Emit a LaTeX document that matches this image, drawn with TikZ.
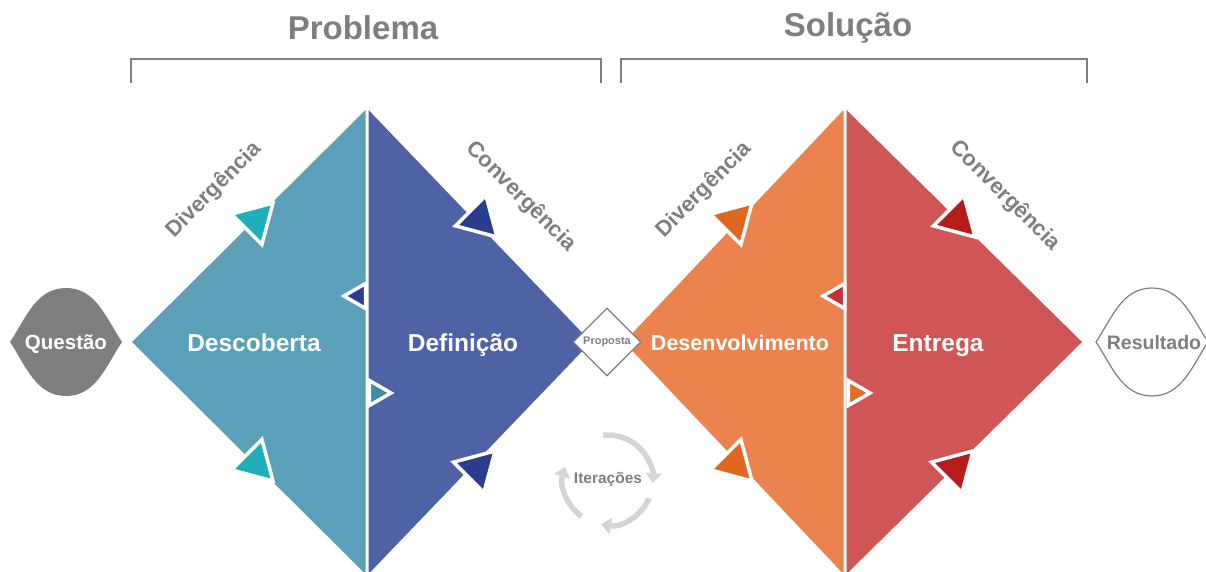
\documentclass[tikz,border=0pt]{standalone}
\usepackage{fontspec}
\setmainfont{Liberation Sans}
\usetikzlibrary{arrows.meta,shapes.geometric}
\definecolor{textgray}{HTML}{7F7F7F}
\definecolor{discover}{HTML}{5BA0B9}
\definecolor{define}{HTML}{4F62A6}
\definecolor{develop}{HTML}{EC834F}
\definecolor{deliver}{HTML}{D05555}
\definecolor{discoverdark}{HTML}{1EAFB9}
\definecolor{discovermid}{HTML}{3C8EA8}
\definecolor{definedark}{HTML}{2B3D8F}
\definecolor{developdark}{HTML}{E1661F}
\definecolor{developmid}{HTML}{E46C24}
\definecolor{deliverdark}{HTML}{B71C1C}
\definecolor{delivermid}{HTML}{C23136}
\definecolor{iterate}{HTML}{D4D4D4}

\tikzset{
  phase/.style={text=white, anchor=base, font=\bfseries\fontsize{24.5}{28}\selectfont},
  flow/.style={text=textgray, font=\bfseries\fontsize{22}{26}\selectfont},
  heading/.style={text=textgray, font=\bfseries\fontsize{33}{38}\selectfont},
  bracket/.style={draw=textgray, line width=2pt},
  endpoint/.style={anchor=base, font=\bfseries\fontsize{20.5}{24}\selectfont},
  cyclearrow/.style={draw=iterate, line width=5.5pt, -{Triangle[length=10pt,width=16pt]}},
}

% triangle: colour, tip, direction, side
\newcommand{\edgetri}[4]{%
  \begin{scope}[shift={#2}, rotate=#3]
    \filldraw[draw=white, line width=3.5pt, fill=#1]
      (0,0) -- ({-#4*0.866},{#4/2}) -- ({-#4*0.866},{-#4/2}) -- cycle;
  \end{scope}}

% lens: centre x, style
\newcommand{\lens}[2]{%
  \path[#2] ({#1-56},342) .. controls ({#1-40},318) and ({#1-30},288) .. (#1,288)
    .. controls ({#1+30},288) and ({#1+40},318) .. ({#1+56},342)
    .. controls ({#1+40},366) and ({#1+30},396) .. (#1,396)
    .. controls ({#1-30},396) and ({#1-40},366) .. ({#1-56},342) -- cycle;}

\begin{document}
\begin{tikzpicture}[x=1pt, y=-1pt]
  \useasboundingbox (0,0) rectangle (1206,572);

  % headings
  \node[heading] (problem) at (363,28) {Problema};
  \node[heading] (solution) at (848,28) {Solução};
  \draw[bracket] (131,83) -- (131,59) -- (601,59) -- (601,83);
  \draw[bracket] (621,83) -- (621,59) -- (1087,59) -- (1087,83);

  % diamonds
  \fill[discover] (132,342) -- (365.5,110) -- (365.5,574) -- cycle;
  \fill[define] (368.5,110) -- (591,342) -- (368.5,574) -- cycle;
  \fill[develop] (624,342) -- (843.5,110) -- (843.5,574) -- cycle;
  \fill[deliver] (846.5,110) -- (1082,342) -- (846.5,574) -- cycle;

  \edgetri{discoverdark}{(273,203)}{45}{43}
  \edgetri{discoverdark}{(273,481)}{-45}{43}
  \edgetri{definedark}{(497,237)}{-45}{43}
  \edgetri{definedark}{(495,451)}{45}{43}
  \edgetri{definedark}{(344,296)}{180}{25}
  \edgetri{discovermid}{(391,393)}{0}{25}

  \edgetri{developdark}{(752,203)}{45}{43}
  \edgetri{developdark}{(752,481)}{-45}{43}
  \edgetri{deliverdark}{(975,237)}{-45}{43}
  \edgetri{deliverdark}{(973,451)}{45}{43}
  \edgetri{delivermid}{(823,296)}{180}{25}
  \edgetri{developmid}{(870,393)}{0}{25}

  \node[phase] (discovery) at (254,351) {Descoberta};
  \node[phase] (definition) at (463,351) {Definição};
  \node[phase, font=\bfseries\fontsize{21.5}{25}\selectfont] (development) at (740,350) {Desenvolvimento};
  \node[phase] (delivery) at (938,351) {Entrega};

  \node[flow, rotate=45] (diverge1) at (214,190) {Divergência};
  \node[flow, rotate=-45] (converge1) at (521,197) {Convergência};
  \node[flow, rotate=45] (diverge2) at (704,190) {Divergência};
  \node[flow, rotate=-45] (converge2) at (1005,196) {Convergência};

  % question and result
  \lens{66}{fill=textgray}
  \node[endpoint, text=white] (question) at (66,349.5) {Questão};
  \lens{1152}{draw=textgray, line width=1.2pt}
  \node[endpoint, text=textgray, font=\bfseries\fontsize{19.5}{23}\selectfont] (result) at (1154,349) {Resultado};

  % proposal
  \node[diamond, draw=textgray, fill=white, line width=1.2pt, minimum size=68pt, inner sep=0pt,
        text=textgray, font=\bfseries\fontsize{11}{13}\selectfont] (proposal) at (607,342) {Proposta};

  % iterations
  \node[text=textgray, font=\bfseries\fontsize{15.5}{18}\selectfont] (iteration) at (608,480) {Iterações};
  \draw[cyclearrow] (iteration.center) ++(96:45pt) arc[start angle=96, end angle=-4, radius=45pt];
  \draw[cyclearrow] (iteration.center) ++(-24:45pt) arc[start angle=-24, end angle=-99, radius=45pt];
  \draw[cyclearrow] (iteration.center) ++(-126:45pt) arc[start angle=-126, end angle=-197, radius=45pt];
\end{tikzpicture}
\end{document}
